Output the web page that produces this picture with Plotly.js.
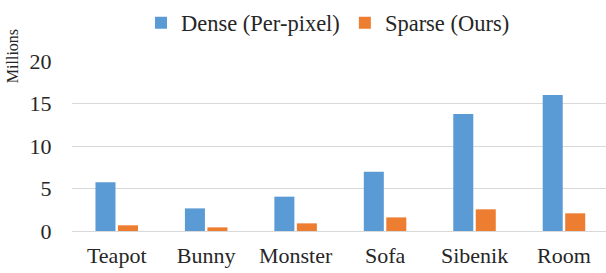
<!DOCTYPE html>
<html>
<head>
<meta charset="utf-8">
<script src="https://cdn.plot.ly/plotly-3.0.1.min.js"></script>
<style>html,body{margin:0;padding:0;background:#fff;}#chart{width:606px;height:273px;}</style>
</head>
<body>
<div id="chart"></div>
<script>
const categories = ["Teapot", "Bunny", "Monster", "Sofa", "Sibenik", "Room"];
const denseValues = [5.75, 2.66, 4.04, 6.98, 13.76, 16.0];
const sparseValues = [0.67, 0.43, 0.9, 1.6, 2.55, 2.08];
const seriesNames = ["Dense (Per-pixel)", "Sparse (Ours)"];
const yTicks = [0, 5, 10, 15, 20];

const FONT = "Liberation Serif";
const TXT = "#262626";

const traces = [
  {type: "bar", name: seriesNames[0], x: categories, y: denseValues, marker: {color: "#5B9BD5"}},
  {type: "bar", name: seriesNames[1], x: categories, y: sparseValues, marker: {color: "#ED7D31"}}
];

const layout = {
  width: 606, height: 273,
  margin: {l: 72, r: 0, t: 61, b: 42, pad: 0},
  paper_bgcolor: "#fff", plot_bgcolor: "#fff",
  font: {family: FONT, color: TXT, size: 22},
  barmode: "group", bargap: 0.497, bargroupgap: 0.11,
  showlegend: true,
  legend: {orientation: "h", x: 0, xref: "paper", y: 1, yanchor: "middle",
           font: {family: FONT, size: 22.5, color: TXT}, bgcolor: "rgba(0,0,0,0)",
           traceorder: "normal"},
  xaxis: {type: "category", range: [-0.5, 5.47], showgrid: false, zeroline: false,
          showline: false, ticks: "outside", ticklen: 5, tickcolor: "rgba(0,0,0,0)",
          tickfont: {family: FONT, size: 22, color: TXT}, fixedrange: true},
  yaxis: {range: [0, 20], tickvals: yTicks, ticktext: yTicks.map(String),
          showgrid: true, gridcolor: "#D9D9D9", gridwidth: 1,
          zeroline: true, zerolinecolor: "#D9D9D9", zerolinewidth: 1,
          showline: false, ticks: "outside", ticklen: 15, tickcolor: "rgba(0,0,0,0)",
          tickfont: {family: FONT, size: 22, color: TXT}, fixedrange: true},
  annotations: [{text: "Millions", xref: "paper", yref: "paper", x: -0.11, y: 1.03,
                 xanchor: "center", yanchor: "middle", textangle: -90, showarrow: false,
                 font: {family: FONT, size: 16, color: TXT}}]
};

const plotW = 606 - 72;
layout.legend.x = (141 - 72) / plotW;
layout.legend.y = 1 + (61 - 23) / (273 - 61 - 42);

Plotly.newPlot("chart", traces, layout, {displayModeBar: false, staticPlot: true});
</script>
</body>
</html>
